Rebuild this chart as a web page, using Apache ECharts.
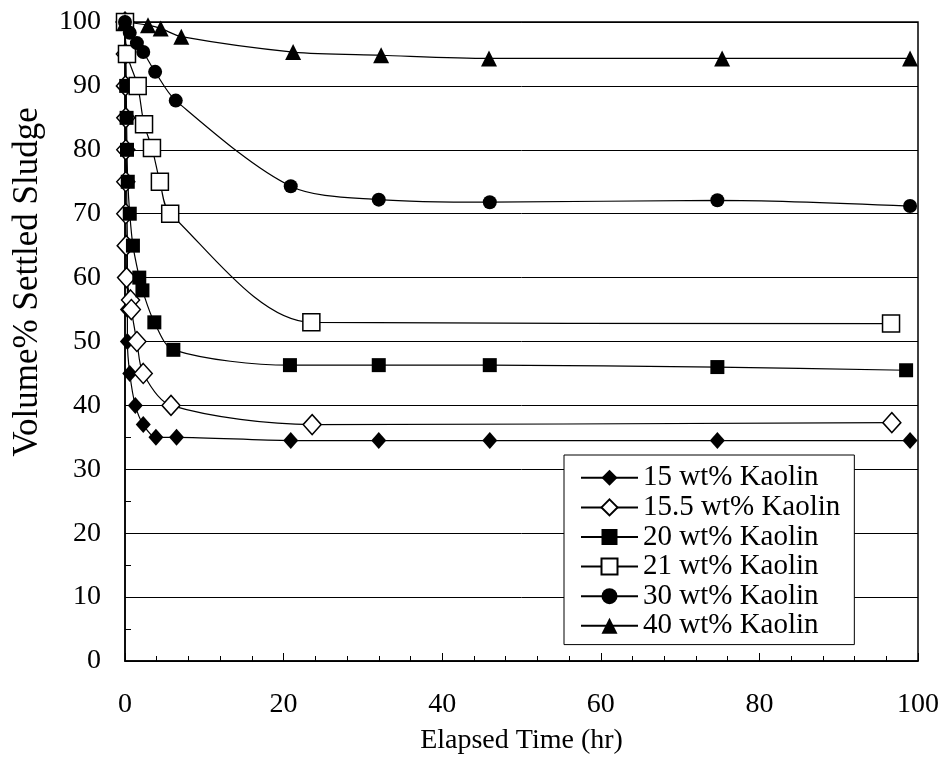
<!DOCTYPE html>
<html>
<head>
<meta charset="utf-8">
<script src="https://cdn.jsdelivr.net/npm/echarts@6/dist/echarts.min.js"></script>
<style>html,body{margin:0;padding:0;background:#fff}#c{width:943px;height:762px}</style>
</head>
<body>
<div id="c"></div>
<script>
// Data: [elapsed time (hr), volume% settled sludge]
const names = ['15 wt% Kaolin', '15.5 wt% Kaolin', '20 wt% Kaolin', '21 wt% Kaolin', '30 wt% Kaolin', '40 wt% Kaolin'];
const s15 = [[0,100],[0.05,95],[0.1,90],[0.1,85],[0.15,80],[0.2,75],[0.25,70],[0.3,65],[0.3,60],[0.3,55],[0.3,50],[0.6,45],[1.3,40],[2.3,37],[3.9,35],[6.5,35],[20.9,34.5],[32,34.5],[46,34.5],[74.7,34.5],[99,34.5]];
const s155 = [[0,100],[0.05,95],[0.05,90],[0.1,85],[0.1,80],[0.1,75],[0.1,70],[0.15,65],[0.2,60],[0.7,56.5],[0.8,55],[1.5,50],[2.3,45],[5.8,40],[23.6,37],[96.7,37.3]];
const s20 = [[0,100],[0.1,95],[0.15,90],[0.2,85],[0.25,80],[0.35,75],[0.6,70],[1.0,65],[1.8,60],[2.2,58],[3.7,53],[6.1,48.7],[20.8,46.3],[32,46.3],[46,46.3],[74.7,46],[98.5,45.5]];
const s21 = [[0,100],[0.25,95],[1.6,90],[2.4,84],[3.4,80.3],[4.4,75],[5.7,70],[23.5,53],[96.6,52.8]];
const s30 = [[0,100],[0.6,98.3],[1.5,96.7],[2.3,95.3],[3.8,92.2],[6.4,87.7],[20.9,74.3],[32,72.2],[46,71.8],[74.7,72.1],[99,71.2]];
const s40 = [[0,100],[2.9,99.5],[4.5,99],[7.1,97.7],[21.2,95.3],[32.3,94.8],[45.9,94.3],[75.3,94.3],[99,94.3]];
const xTitle = 'Elapsed Time (hr)';
const yTitle = 'Volume% Settled Sludge';

const FONT = '"Liberation Serif","Times New Roman",serif';
const chart = echarts.init(document.getElementById('c'), null, {renderer: 'canvas'});

function mk(name, data, symbol, size, filled) {
  return {
    name: name, type: 'line', data: data, smooth: 0.3,
    symbol: symbol, symbolSize: size, showSymbol: true,
    lineStyle: {color: '#000', width: 1.2},
    itemStyle: filled ? {color: '#000', borderColor: '#000', borderWidth: 0}
                      : {color: '#fff', borderColor: '#000', borderWidth: 1.5},
    emphasis: {disabled: true}, animation: false, z: 3
  };
}

chart.setOption({
  animation: false,
  backgroundColor: '#fff',
  grid: {left: 125, right: 25, top: 22, bottom: 101, show: true, borderColor: '#000', borderWidth: 1.5, backgroundColor: 'transparent'},
  graphic: [{
    type: 'text', x: 28, y: 282, rotation: Math.PI / 2,
    style: {text: yTitle, font: '35px ' + FONT, fill: '#000', align: 'center', verticalAlign: 'middle'}
  }],
  xAxis: {
    type: 'value', min: 0, max: 100, interval: 20,
    name: xTitle, nameLocation: 'middle', nameGap: 66,
    nameTextStyle: {fontFamily: FONT, fontSize: 28, color: '#000'},
    axisLine: {show: true, lineStyle: {color: '#000', width: 1.5}},
    axisTick: {show: true, inside: true, length: 8, lineStyle: {color: '#000'}},
    minorTick: {show: true, splitNumber: 5, length: 5, lineStyle: {color: '#000'}},
    axisLabel: {fontFamily: FONT, fontSize: 28, color: '#000', margin: 30},
    splitLine: {show: false}
  },
  yAxis: {
    type: 'value', min: 0, max: 100, interval: 10,
    axisLine: {show: true, lineStyle: {color: '#000', width: 1.5}},
    axisTick: {show: true, inside: true, length: 8, lineStyle: {color: '#000'}},
    minorTick: {show: true, splitNumber: 2, length: 6, lineStyle: {color: '#000'}},
    axisLabel: {fontFamily: FONT, fontSize: 28, color: '#000', margin: 24},
    splitLine: {show: true, lineStyle: {color: '#000', width: 1}}
  },
  legend: {
    data: names, orient: 'vertical', left: 564, top: 455,
    backgroundColor: '#fff', borderColor: '#000', borderWidth: 1,
    padding: [8, 14, 4, 16], itemGap: 0, itemWidth: 57, itemHeight: 20,
    textStyle: {fontFamily: FONT, fontSize: 29, color: '#000', lineHeight: 29.6, padding: [0, 0, 0, 0]},
    selectedMode: false
  },
  series: [
    mk(names[0], s15, 'diamond', [15, 17], true),
    mk(names[1], s155, 'diamond', [18, 20], false),
    mk(names[2], s20, 'rect', 14, true),
    mk(names[3], s21, 'rect', 17, false),
    mk(names[4], s30, 'circle', 14, true),
    mk(names[5], s40, 'triangle', 16, true)
  ]
});
</script>
</body>
</html>
